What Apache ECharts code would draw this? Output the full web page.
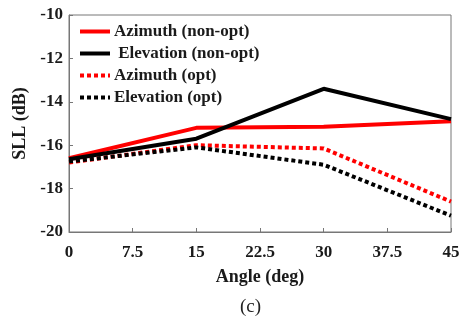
<!DOCTYPE html>
<html><head><meta charset="utf-8">
<script src="https://cdn.jsdelivr.net/npm/echarts@6/dist/echarts.min.js"></script>
<style>html,body{margin:0;padding:0;background:#fff}#c{width:466px;height:320px}</style>
</head><body><div id="c"></div>
<script>
const angles = [0, 15, 30, 45];
const xTicks = [0, 7.5, 15, 22.5, 30, 37.5, 45];
const azNonOpt = [-16.6, -15.2, -15.15, -14.9];
const elNonOpt = [-16.65, -15.7, -13.4, -14.8];
const azOpt = [-16.8, -16.0, -16.15, -18.6];
const elOpt = [-16.75, -16.1, -16.9, -19.25];
const names = ['Azimuth (non-opt)', ' Elevation (non-opt)', 'Azimuth (opt)', 'Elevation (opt)'];

const font = 'Liberation Serif';
const chart = echarts.init(document.getElementById('c'));
function mk(name, vals, color, dashed) {
  return {
    name: name, type: 'line', symbol: 'none', silent: true,
    data: angles.map((a, i) => [a, vals[i]]),
    lineStyle: { color: color, width: 4, type: dashed ? [4, 3] : 'solid', cap: 'butt' },
    itemStyle: { color: color }
  };
}
chart.setOption({
  animation: false,
  grid: { left: 69, right: 15, top: 15, bottom: 88, show: true, borderColor: '#777', borderWidth: 1 },
  title: { text: '(c)', left: 235, top: 293, textStyle: { fontFamily: font, fontSize: 19, fontWeight: 'normal', color: '#222' } },
  legend: {
    left: 73, top: 18, orient: 'vertical', itemWidth: 30, itemHeight: 14, itemGap: 5,
    itemStyle: { opacity: 0 },
    lineStyle: { width: 4 },
    textStyle: { fontFamily: font, fontSize: 17, fontWeight: 'bold', color: '#1a1a1a', padding: [0,0,0,-1] },
    data: names
  },
  xAxis: {
    type: 'value', min: 0, max: 45, interval: 7.5,
    name: 'Angle (deg)', nameLocation: 'middle', nameGap: 36,
    nameTextStyle: { fontFamily: font, fontSize: 18, fontWeight: 'bold', color: '#1a1a1a' },
    axisLine: { lineStyle: { color: '#777' } },
    axisTick: { inside: true, length: 4, lineStyle: { color: '#777' } },
    splitLine: { show: false },
    axisLabel: { fontFamily: font, fontSize: 17, fontWeight: 'bold', color: '#1a1a1a', margin: 12,
      formatter: v => String(v) }
  },
  yAxis: {
    type: 'value', min: -20, max: -10, interval: 2,
    name: 'SLL (dB)', nameLocation: 'middle', nameGap: 40, nameRotate: 90,
    nameTextStyle: { fontFamily: font, fontSize: 18, fontWeight: 'bold', color: '#1a1a1a' },
    axisLine: { lineStyle: { color: '#777' } },
    axisTick: { inside: true, length: 4, lineStyle: { color: '#777' } },
    splitLine: { show: false },
    axisLabel: { fontFamily: font, fontSize: 17, fontWeight: 'bold', color: '#1a1a1a', margin: 6 }
  },
  series: [
    mk(names[0], azNonOpt, '#ff0000', false),
    mk(names[1], elNonOpt, '#000000', false),
    mk(names[2], azOpt, '#ff0000', true),
    mk(names[3], elOpt, '#000000', true)
  ]
});
</script></body></html>
